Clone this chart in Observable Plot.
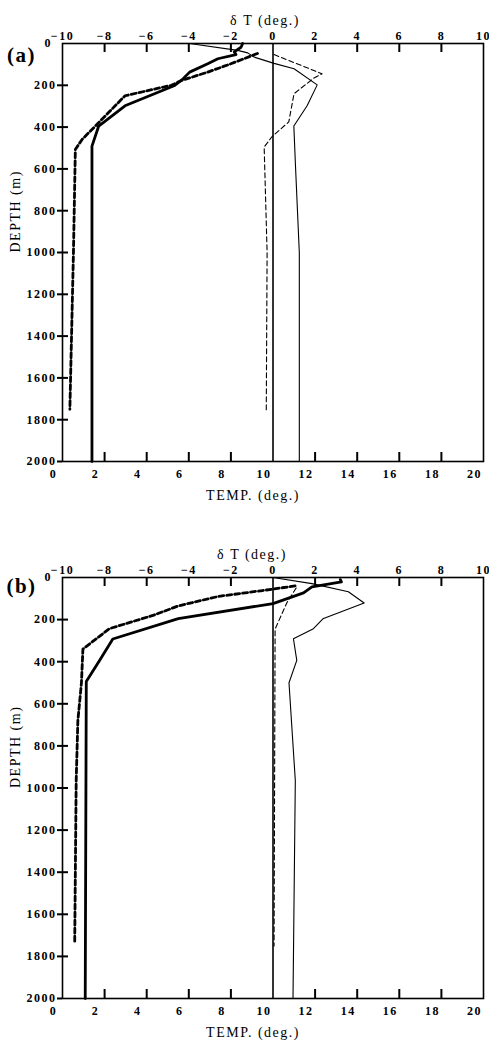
<!DOCTYPE html>
<html><head><meta charset="utf-8">
<script src="https://cdn.jsdelivr.net/npm/d3@7"></script>
<script src="https://cdn.jsdelivr.net/npm/@observablehq/plot@0.6"></script>
<style>
body{margin:0;background:#fff;}
#chart{width:489px;}
svg{display:block;}
svg text{letter-spacing:1.5px;}
</style></head><body><div id="chart"></div>
<script>
// ---- axis ticks ----
const depthTicks = [200,400,600,800,1000,1200,1400,1600,1800,2000];
const depthZero = ["0"];
const tempTicks = [0,2,4,6,8,10,12,14,16,18,20];
const innerTempTicks = [2,4,6,8,12,14,16,18];
const innerDepthTicks = [200,400,600,800,1000,1200,1400,1600,1800];

// ---- panel (a) ----
const aTempSolidDepth = [0,18,40,53,73,97,137,169,201,298,395,491,2000];
const aTempSolidVal   = [8.56,8.48,8.16,8.24,7.38,6.9,6.04,5.73,5.33,2.97,1.72,1.4,1.4];
const aTempDashDepth  = [48,97,137,177,200,250,395,459,507,1000,1750];
const aTempDashVal    = [9.26,8.0,6.9,5.65,5.17,2.97,1.56,0.93,0.61,0.52,0.35];
const aDTSolidDepth   = [0,33,45,65,95,121,198,298,395,590,1000,2000];
const aDTSolidVal     = [-3.96,-1.68,-1.2,-0.9,0.05,1.0,2.1,1.62,0.99,1.07,1.25,1.25];
const aDTDashDepth    = [53,145,165,240,375,445,495,1000,1760];
const aDTDashVal      = [0.05,2.33,1.95,1.0,0.75,-0.04,-0.42,-0.28,-0.32];

// ---- panel (b) ----
const bTempSolidDepth = [10,21,45,73,124,195,292,394,494,2000];
const bTempSolidVal   = [13.2,13.25,11.85,11.45,10.0,5.5,2.39,1.76,1.13,1.08];
const bTempDashDepth  = [40,62,90,135,180,243,340,500,680,965,1735];
const bTempDashVal    = [11.05,9.5,7.4,5.5,4.3,2.23,0.97,0.9,0.73,0.65,0.58];
const bDTSolidDepth   = [0,29,68,121,196,243,291,394,500,965,2000];
const bDTSolidVal     = [0,1.85,3.58,4.33,2.37,1.92,0.97,1.13,0.76,1.06,0.95];
const bDTDashDepth    = [50,120,245,1750];
const bDTDashVal      = [1.1,0.66,0.1,0.05];

const rows = (depths, vals) => depths.map((d, i) => ({d, v: vals[i]}));
const fmtTop = t => { const v = t - 10; return (v < 0 ? "\u2212" : "") + Math.abs(v); };
const serif = "'Liberation Serif', 'DejaVu Serif', serif";
const H = 523;

function panel(cfg) {
  const fh = H - cfg.mt - cfg.mb; // frame height in px
  return Plot.plot({
    width: 489, height: H,
    marginTop: cfg.mt, marginBottom: cfg.mb, marginLeft: 62, marginRight: 6,
    style: {fontFamily: serif, fontSize: "12px", background: "#fff", color: "#000", overflow: "visible"},
    x: {domain: [0, 20]},
    y: {domain: [0, 2000], reverse: true},
    marks: [
      Plot.frame({stroke: "#000", strokeWidth: 1.6}),
      Plot.axisY(depthTicks, {anchor: "left", tickSize: 5, tickPadding: 1, strokeWidth: 2, label: null, fontWeight: "bold", tickFormat: d => String(d)}),
      Plot.text(depthZero, {frameAnchor: "top-left", dx: -18, dy: -5, fontWeight: "bold", fontSize: 12}),
      Plot.axisX(tempTicks, {anchor: "top", tickSize: 0, tickPadding: 4, dx: 0, label: null, fontWeight: "bold", tickFormat: fmtTop}),
      Plot.axisX(tempTicks, {anchor: "bottom", tickSize: 0, tickPadding: 8, dx: -9, label: null, fontWeight: "bold", tickFormat: d => String(d)}),
      // inward ticks
      Plot.tickX(innerTempTicks, {x: d => d, insetBottom: fh - 9, stroke: "#000", strokeWidth: 2}),
      Plot.tickX(innerTempTicks, {x: d => d, insetTop: fh - 9, stroke: "#000", strokeWidth: 2}),
      Plot.tickY(innerDepthTicks, {y: d => d, insetRight: 421 - 6, stroke: "#000", strokeWidth: 2}),
      Plot.ruleX([10], {stroke: "#000", strokeWidth: 1.6}),
      Plot.line(rows(cfg.tsD, cfg.tsV), {x: "v", y: "d", stroke: "#000", strokeWidth: 2.8}),
      Plot.line(rows(cfg.tdD, cfg.tdV), {x: "v", y: "d", stroke: "#000", strokeWidth: 2.8, strokeDasharray: "5,3"}),
      Plot.line(rows(cfg.dsD, cfg.dsV), {x: r => r.v + 10, y: "d", stroke: "#000", strokeWidth: 1.1}),
      Plot.line(rows(cfg.ddD, cfg.ddV), {x: r => r.v + 10, y: "d", stroke: "#000", strokeWidth: 1.1, strokeDasharray: "5,3"}),
      Plot.text([cfg.tag], {frameAnchor: "top-left", dx: -41, dy: cfg.tagDy, fontSize: 21, fontWeight: "bold", textAnchor: "middle"}),
      Plot.text(["\u03b4 T (deg.)"], {frameAnchor: "top", dy: -28, dx: cfg.topDx, fontSize: 14}),
      Plot.text(["TEMP. (deg.)"], {frameAnchor: "bottom", dy: 38, dx: -20, fontSize: 14}),
      Plot.text(["DEPTH (m)"], {frameAnchor: "left", dx: -47, rotate: -90, fontSize: 14})
    ]
  });
}

const chart = document.getElementById("chart");
chart.append(panel({
  mt: 43, mb: 62, tag: "(a)", tagDy: 4, topDx: -8,
  tsD: aTempSolidDepth, tsV: aTempSolidVal,
  tdD: aTempDashDepth, tdV: aTempDashVal,
  dsD: aDTSolidDepth, dsV: aDTSolidVal,
  ddD: aDTDashDepth, ddV: aDTDashVal
}));
chart.append(panel({
  mt: 54, mb: 48, tag: "(b)", tagDy: 1, topDx: -21,
  tsD: bTempSolidDepth, tsV: bTempSolidVal,
  tdD: bTempDashDepth, tdV: bTempDashVal,
  dsD: bDTSolidDepth, dsV: bDTSolidVal,
  ddD: bDTDashDepth, ddV: bDTDashVal
}));
</script></body></html>
